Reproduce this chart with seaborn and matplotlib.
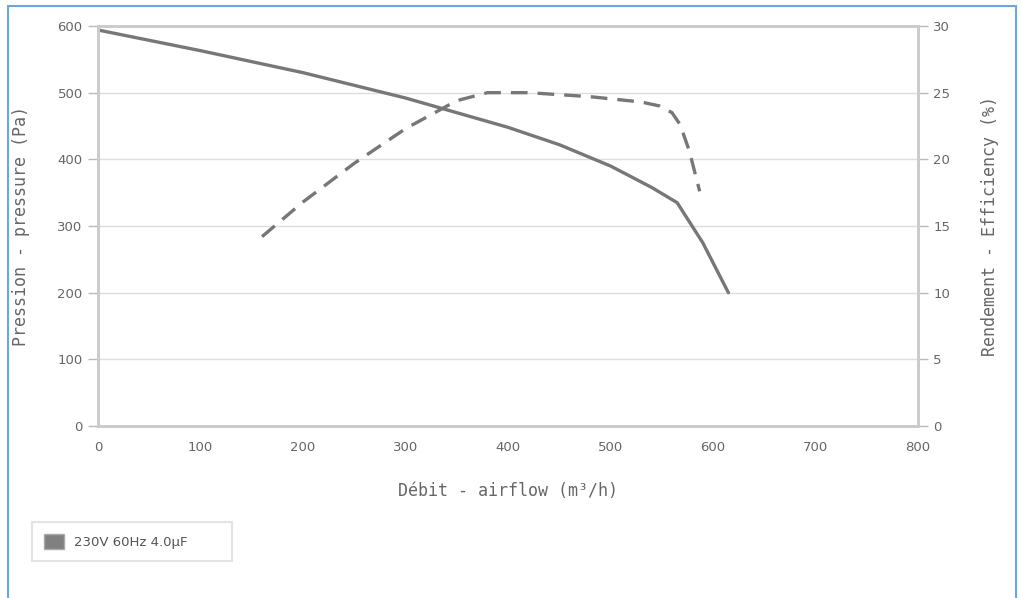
import matplotlib
matplotlib.use("Agg")
import matplotlib.pyplot as plt
import matplotlib.patches as mpatches
import seaborn as sns
import pandas as pd

# === Data ===
airflow_p = [0, 100, 200, 300, 400, 450, 500, 540, 565, 590, 615]
pressure = [594, 563, 530, 492, 448, 422, 390, 358, 335, 275, 200]

airflow_e = [160, 200, 250, 300, 350, 380, 420, 480, 530, 548, 560, 568, 577, 587]
efficiency = [14.2, 16.8, 19.7, 22.3, 24.4, 25.0, 25.0, 24.7, 24.3, 24.0, 23.5, 22.6, 20.6, 17.6]

series_label = "230V 60Hz 4.0µF"

df_p = pd.DataFrame({"airflow": airflow_p, "pressure": pressure})
df_e = pd.DataFrame({"airflow": airflow_e, "efficiency": efficiency})

# === Style ===
sns.set_style("white")
plt.rcParams["font.family"] = ["DejaVu Sans"]
LINE = "#777777"
TXT = "#666666"
SPINE = "#cccccc"
GRID = "#dddddd"
LABEL_FONT = ["DejaVu Sans Mono", "DejaVu Sans"]

fig = plt.figure(figsize=(10.21, 5.98), dpi=100)
ax = fig.add_axes([98 / 1021, 1 - 426 / 598, 820 / 1021, 400 / 598])
ax2 = ax.twinx()

sns.lineplot(data=df_p, x="airflow", y="pressure", ax=ax, color=LINE, lw=2.4)
sns.lineplot(data=df_e, x="airflow", y="efficiency", ax=ax2, color=LINE, lw=2.4,
             linestyle=(0, (5, 3)))

ax.set_xlim(0, 800)
ax.set_ylim(0, 600)
ax2.set_ylim(0, 30)
ax.set_xticks(range(0, 801, 100))
ax.set_yticks(range(0, 601, 100))
ax2.set_yticks(range(0, 31, 5))

ax.yaxis.grid(True, color=GRID, lw=1)
ax.set_axisbelow(True)

for a in (ax, ax2):
    for s in a.spines.values():
        s.set_color(SPINE)
        s.set_linewidth(2)
    a.tick_params(colors=TXT, labelsize=9.5, length=7, width=1, direction="out", pad=4)
    a.tick_params(axis="both", color="#bbbbbb")

ax.set_xlabel("Débit - airflow (m³/h)", color=TXT, fontsize=12, labelpad=20,
              family=LABEL_FONT)
ax.set_ylabel("Pression - pressure (Pa)", color=TXT, fontsize=12, labelpad=20,
              family=LABEL_FONT)
ax2.set_ylabel("Rendement - Efficiency (%)", color=TXT, fontsize=12, labelpad=22,
               family=LABEL_FONT)

# legend box at the bottom left
handle = mpatches.Patch(facecolor="#808080", edgecolor="#aaaaaa", label=series_label)
leg = fig.legend(handles=[handle], loc="upper left",
                 bbox_to_anchor=(32 / 1021, 1 - 522 / 598, 200 / 1021, 0.0),
                 mode="expand", frameon=True, fancybox=False, edgecolor="#dddddd",
                 fontsize=9.5, labelcolor="#555555", handlelength=1.5, handleheight=1.4,
                 borderpad=0.9, handletextpad=0.8, borderaxespad=0)
leg.get_frame().set_linewidth(1.5)

# blue outer frame
fig.patches.append(mpatches.Rectangle((8 / 1021, -0.01), 1008 / 1021, 1 - 6 / 598 + 0.01,
                                      transform=fig.transFigure, fill=False,
                                      edgecolor="#6aa6e8", lw=1.5))

fig.savefig("out.png", dpi=100)
